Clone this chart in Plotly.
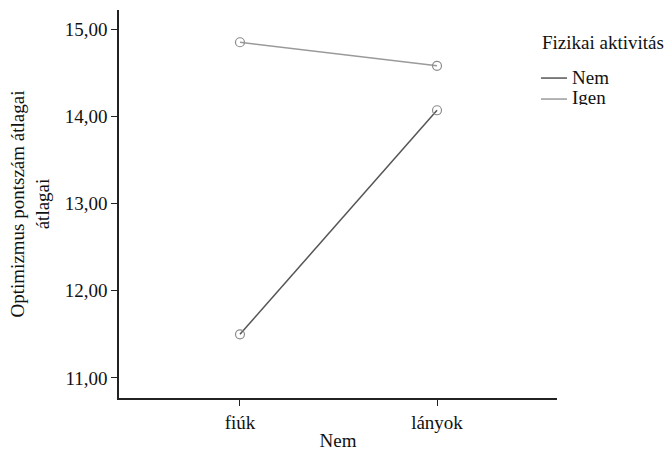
import plotly.graph_objects as go

# Mean optimism score by gender, split by physical activity
categories = ["fiúk", "lányok"]
series_names = ["Nem", "Igen"]
nem_values = [11.50, 14.07]
igen_values = [14.85, 14.58]
tick_values = [11, 12, 13, 14, 15]
tick_labels = ["11,00", "12,00", "13,00", "14,00", "15,00"]
legend_title = "Fizikai aktivitás"

FONT = "Liberation Serif, Times New Roman, serif"
SIZE = 19
TEXT = "#111111"
MARKER = "#8c8c8c"
line_colors = {"Nem": "#555555", "Igen": "#9a9a9a"}

fig = go.Figure()
xs = list(range(len(categories)))
for name, vals in zip(series_names, [nem_values, igen_values]):
    fig.add_trace(go.Scatter(
        x=xs, y=vals, mode="lines+markers", name=name, showlegend=False,
        line=dict(color=line_colors[name], width=1.5),
        marker=dict(symbol="circle-open", size=9, color=MARKER,
                    line=dict(color=MARKER, width=1.2)),
    ))

# Legend block at the right: title, then a short line swatch + label per series
shapes, annotations = [], []
annotations.append(dict(text=legend_title, x=0.961, xref="paper", xanchor="left",
                        y=0.9175, yref="paper", yanchor="middle", showarrow=False,
                        font=dict(family=FONT, size=SIZE, color=TEXT)))
legend_rows = [0.8286, 0.7745]
for name, ypos in zip(series_names, legend_rows):
    shapes.append(dict(type="line", xref="paper", yref="paper",
                       x0=0.9635, x1=1.0228, y0=ypos - 0.004, y1=ypos - 0.004,
                       line=dict(color=line_colors[name], width=1.5)))
    annotations.append(dict(text=name, x=1.031, xref="paper", xanchor="left",
                            y=ypos, yref="paper", yanchor="middle", showarrow=False,
                            borderpad=0, height=16, valign="middle",
                            font=dict(family=FONT, size=SIZE, color=TEXT)))

fig.update_layout(
    width=668, height=451,
    margin=dict(l=119, r=111, t=10, b=53),
    plot_bgcolor="white", paper_bgcolor="white",
    font=dict(family=FONT, size=SIZE, color=TEXT),
    showlegend=False,
    shapes=shapes,
    annotations=annotations,
)

fig.update_xaxes(
    range=[-0.614, 1.609], automargin=False,
    tickmode="array", tickvals=xs, ticktext=categories,
    showline=True, linecolor="#222222", linewidth=1.5,
    ticks="outside", ticklen=6, tickcolor="#222222",
    showgrid=False, zeroline=False,
    title=dict(text="Nem", standoff=2, font=dict(family=FONT, size=SIZE)),
)
fig.update_yaxes(
    range=[10.77, 15.22], automargin=False,
    tickmode="array", tickvals=tick_values, ticktext=tick_labels,
    showline=True, linecolor="#222222", linewidth=1.5,
    ticks="outside", ticklen=6, tickcolor="#222222",
    showgrid=False, zeroline=False,
    title=dict(text="Optimizmus pontszám átlagai<br>átlagai", standoff=10,
               font=dict(family=FONT, size=SIZE)),
)

fig.write_html("out.html")
